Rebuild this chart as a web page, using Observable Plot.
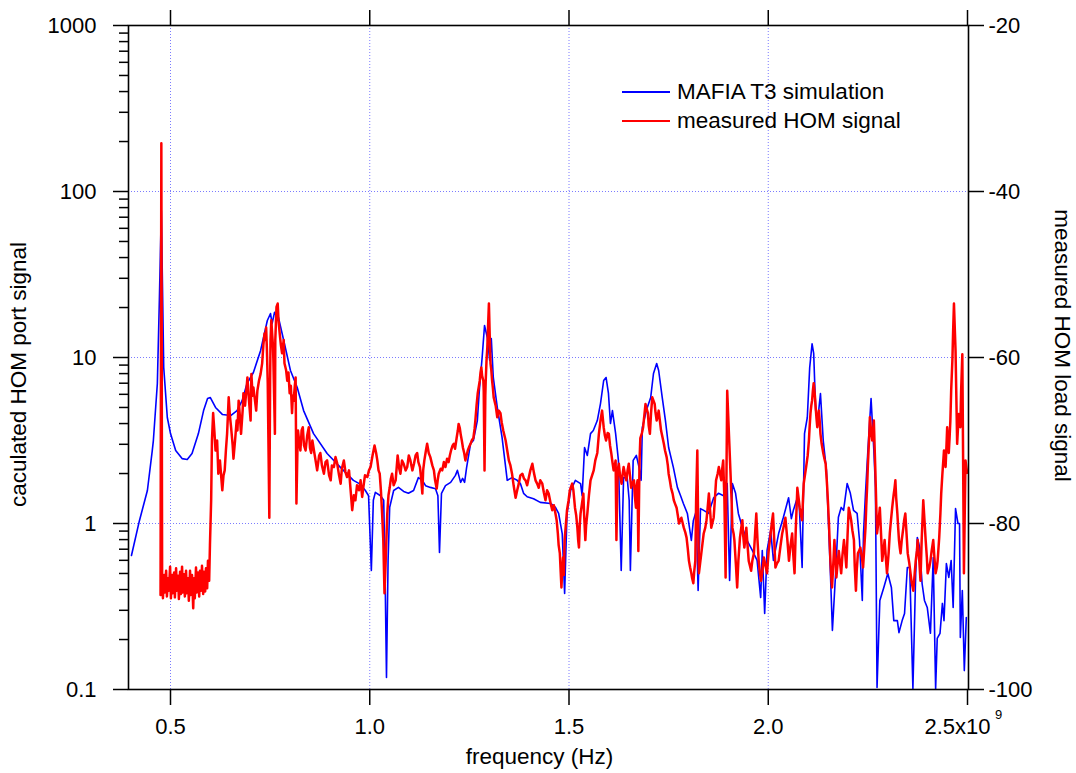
<!DOCTYPE html>
<html>
<head>
<meta charset="utf-8">
<script src="https://cdn.jsdelivr.net/npm/d3@7"></script>
<script src="https://cdn.jsdelivr.net/npm/@observablehq/plot@0.6"></script>
<style>
  body { margin: 0; background: #fff; }
  #chart { position: relative; width: 1076px; height: 773px; font-family: "Liberation Sans", Arial, sans-serif; }
  .legend { position: absolute; left: 622px; top: 77px; font-size: 22.5px; color: #000; }
  .legend .row { display: flex; align-items: center; height: 29px; white-space: nowrap; }
  .legend .swatch { display: inline-block; width: 48px; height: 2px; margin-right: 7px; }
</style>
</head>
<body>
<div id="chart"></div>
<script>
// MAFIA T3 simulation: frequency (MHz) and calculated HOM port signal (linear)
const simFreqMHz = [402,422,442,454,457,467,472,477,483,492,500,513,529,542,554,570,583,593,600,613,630,651,667,680,692,708,726,743,751,755,761,771,784,801,818,834,859,893,927,959,977,989,997,1004,1009,1014,1027,1035,1038,1042,1046,1050,1060,1072,1085,1097,1110,1122,1132,1140,1152,1165,1171,1175,1180,1190,1203,1215,1220,1228,1233,1238,1243,1253,1260,1270,1275,1282,1288,1295,1301,1305,1310,1320,1332,1345,1357,1370,1378,1386,1395,1411,1428,1454,1466,1474,1483,1489,1495,1504,1516,1529,1533,1539,1546,1554,1561,1571,1579,1587,1593,1599,1604,1609,1617,1624,1631,1637,1646,1651,1654,1661,1669,1676,1681,1684,1694,1705,1712,1720,1725,1734,1742,1750,1762,1772,1780,1787,1797,1807,1812,1819,1824,1830,1838,1850,1863,1875,1888,1897,1903,1910,1918,1925,1935,1947,1960,1972,1981,1985,1991,1997,2006,2013,2026,2038,2051,2058,2063,2073,2078,2085,2091,2098,2104,2110,2114,2119,2124,2131,2138,2146,2156,2161,2169,2176,2183,2189,2198,2206,2214,2223,2229,2236,2239,2244,2250,2258,2265,2269,2273,2280,2290,2300,2309,2315,2324,2328,2336,2342,2349,2355,2363,2370,2374,2380,2386,2392,2399,2407,2414,2420,2424,2431,2437,2441,2447,2453,2459,2464,2470,2476,2480,2482,2487,2492,2497];
const simSignal = [0.642,1.04,1.58,2.72,3.16,6.97,22.0,76.8,8.71,4.35,3.48,2.75,2.46,2.43,2.64,3.48,4.79,5.66,5.74,5.00,4.54,4.47,4.79,5.51,6.97,8.12,11.0,16.7,18.4,16.0,18.7,17.4,12.7,8.35,6.60,4.79,3.48,2.64,2.17,1.82,1.72,1.58,1.47,0.521,1.38,1.54,1.47,1.38,0.599,0.118,0.599,1.25,1.58,1.65,1.56,1.52,1.58,1.89,1.82,1.69,1.65,1.62,1.47,0.669,1.52,1.69,1.77,1.95,2.09,1.77,1.87,1.77,2.17,3.03,3.16,4.17,6.33,10.0,15.6,13.2,9.59,13.0,7.58,5.00,3.30,1.82,1.89,1.82,1.74,1.52,1.45,1.41,1.34,1.32,1.25,1.15,0.87,0.379,1.15,1.58,1.82,1.74,1.47,2.87,2.57,3.48,3.63,4.17,5.28,7.27,7.58,6.07,4.00,4.79,3.48,2.40,0.521,1.89,1.89,1.38,0.521,2.40,2.57,2.17,1.82,3.79,4.79,5.74,8.01,9.20,8.35,5.74,4.17,2.87,2.17,1.65,1.47,1.32,1.15,0.790,1.04,1.18,0.395,1.23,1.20,1.15,1.43,1.52,1.47,1.74,0.454,1.74,1.52,1.15,0.946,0.790,0.688,0.599,0.358,0.688,0.287,0.688,0.907,0.599,0.87,1.09,1.43,1.07,1.20,1.43,1.25,0.543,3.48,4.35,8.71,12.1,10.6,4.79,4.17,6.07,3.16,2.09,0.500,0.227,0.500,1.09,1.25,1.20,1.74,1.52,1.20,1.15,0.790,0.344,0.87,1.52,2.75,5.66,2.75,1.65,0.103,0.344,0.412,0.500,0.412,0.260,0.260,0.220,0.260,0.287,0.543,0.543,0.101,0.500,0.823,0.717,0.435,0.344,0.312,0.218,0.624,0.101,0.203,0.218,0.330,0.260,0.574,0.473,0.599,0.312,1.23,1.00,1.00,0.206,0.395,0.130,0.271];

// measured HOM load signal: [frequency (MHz), level (dB)]
const measured = [
  [475,-88.6],[477,-34.2],[479,-87.4],[481,-89.0],[484,-86.2],[486,-88.3],[489,-85.7],[491,-88.8],[494,-86.6],[496,-88.1],
  [499,-85.2],[501,-89.0],[504,-86.2],[506,-88.4],[509,-85.9],[511,-88.9],[514,-85.4],[516,-88.1],[519,-86.3],[521,-89.1],
  [524,-85.8],[526,-88.5],[529,-85.2],[531,-88.3],[534,-86.1],[536,-88.8],[539,-85.7],[541,-88.4],[544,-86.6],[546,-89.3],
  [549,-85.7],[551,-88.6],[554,-86.2],[557,-90.2],[559,-86.6],[561,-89.0],[564,-85.3],[566,-88.3],[569,-85.9],[572,-88.8],
  [574,-85.7],[577,-88.1],[579,-85.1],[582,-88.5],[584,-85.8],[587,-88.2],[589,-85.4],[592,-87.8],[594,-84.5],[597,-86.9],
  [599,-82.6],[602,-77.2],[604,-70.0],[607,-66.7],[610,-68.8],[613,-71.2],[617,-70.0],[620,-74.0],[624,-72.4],[630,-76.0],
  [633,-74.2],[636,-73.6],[639,-71.2],[642,-69.2],[646,-64.8],[649,-67.0],[652,-68.4],[656,-70.6],[658,-72.2],[662,-70.0],
  [666,-67.6],[668,-68.8],[671,-65.2],[674,-67.0],[677,-69.2],[681,-66.4],[683,-64.3],[687,-65.8],[691,-63.6],[693,-62.4],
  [697,-65.2],[701,-67.6],[703,-62.0],[706,-64.6],[708,-63.6],[712,-65.2],[715,-66.4],[718,-64.0],[722,-62.8],[726,-62.0],
  [730,-60.7],[733,-58.5],[736,-57.1],[738,-57.9],[740,-56.4],[742,-59.2],[744,-63.1],[748,-79.3],[750,-62.8],[751,-57.9],
  [753,-55.5],[755,-57.1],[757,-58.5],[758,-60.0],[762,-69.2],[763,-57.9],[766,-53.9],[769,-53.5],[771,-55.5],[774,-57.1],
  [777,-58.5],[780,-59.5],[784,-57.9],[786,-60.7],[790,-61.5],[793,-62.8],[796,-61.8],[799,-64.3],[802,-63.4],[805,-66.7],
  [807,-64.6],[809,-65.2],[812,-63.4],[814,-62.4],[816,-77.6],[819,-70.0],[820,-68.8],[824,-70.6],[826,-71.2],[829,-68.8],
  [832,-68.4],[835,-70.6],[839,-71.2],[843,-69.4],[847,-68.4],[850,-70.9],[853,-71.5],[856,-70.0],[860,-71.2],[864,-72.4],
  [868,-73.6],[873,-71.8],[876,-71.5],[880,-73.0],[885,-74.0],[889,-72.6],[893,-72.4],[898,-74.2],[902,-74.8],[905,-73.0],
  [910,-73.2],[914,-72.0],[918,-72.7],[923,-74.2],[927,-75.2],[930,-73.4],[935,-72.4],[939,-73.8],[943,-74.4],[948,-73.6],
  [952,-76.0],[956,-78.4],[960,-76.6],[964,-77.2],[968,-75.4],[973,-76.0],[977,-74.8],[981,-76.8],[984,-75.6],[988,-74.2],
  [994,-74.4],[998,-73.6],[1002,-73.2],[1007,-71.8],[1012,-70.6],[1016,-71.5],[1019,-72.4],[1022,-73.6],[1025,-74.0],[1028,-76.0],
  [1031,-78.8],[1034,-82.0],[1037,-88.4],[1040,-84.5],[1044,-78.8],[1047,-76.6],[1050,-75.7],[1053,-74.6],[1056,-74.0],[1060,-75.4],
  [1065,-74.8],[1068,-73.0],[1070,-71.8],[1074,-73.4],[1077,-74.0],[1081,-72.4],[1085,-72.8],[1090,-73.6],[1094,-73.2],[1098,-71.8],
  [1102,-72.4],[1107,-73.6],[1111,-72.8],[1115,-71.8],[1119,-71.5],[1122,-72.6],[1126,-73.2],[1129,-74.6],[1132,-76.4],[1134,-73.6],
  [1137,-72.4],[1141,-71.2],[1144,-70.4],[1148,-71.5],[1152,-72.0],[1157,-73.0],[1161,-73.6],[1164,-74.8],[1168,-75.8],[1171,-74.6],
  [1173,-74.0],[1178,-73.4],[1182,-73.6],[1186,-72.6],[1190,-73.2],[1194,-72.2],[1198,-72.6],[1201,-71.8],[1204,-71.2],[1208,-70.6],
  [1211,-70.4],[1214,-71.0],[1218,-69.7],[1221,-68.8],[1223,-68.0],[1226,-68.5],[1228,-69.2],[1231,-70.0],[1234,-70.9],[1237,-71.5],
  [1240,-72.4],[1243,-71.8],[1246,-71.2],[1250,-70.7],[1253,-70.4],[1256,-70.0],[1260,-69.7],[1263,-68.6],[1265,-67.6],[1268,-65.8],
  [1271,-64.3],[1274,-63.4],[1276,-62.8],[1278,-61.8],[1280,-61.2],[1282,-62.2],[1285,-62.8],[1286,-64.0],[1288,-73.6],[1290,-64.6],
  [1291,-62.8],[1293,-60.4],[1295,-58.8],[1297,-56.1],[1299,-53.5],[1301,-57.3],[1303,-60.7],[1305,-61.5],[1307,-62.8],[1309,-63.7],
  [1311,-64.8],[1316,-65.8],[1320,-67.2],[1324,-66.4],[1328,-66.7],[1331,-67.8],[1335,-68.8],[1338,-69.4],[1341,-70.0],[1345,-71.2],
  [1349,-72.4],[1353,-73.0],[1357,-74.0],[1361,-75.4],[1366,-76.9],[1370,-76.0],[1374,-75.2],[1378,-74.2],[1383,-74.0],[1387,-74.6],
  [1391,-74.8],[1395,-75.4],[1399,-74.5],[1403,-73.6],[1408,-72.8],[1412,-73.9],[1416,-74.8],[1420,-75.2],[1424,-75.7],[1428,-74.8],
  [1433,-75.2],[1437,-76.3],[1441,-77.2],[1445,-76.0],[1449,-76.4],[1454,-77.6],[1458,-78.4],[1462,-77.8],[1466,-78.8],[1469,-79.6],
  [1472,-81.2],[1474,-82.6],[1477,-83.6],[1479,-85.7],[1481,-87.7],[1483,-85.7],[1485,-84.1],[1487,-86.2],[1489,-82.0],[1492,-80.2],
  [1495,-78.4],[1499,-77.2],[1502,-76.0],[1505,-75.6],[1508,-75.2],[1511,-76.0],[1515,-78.1],[1518,-79.0],[1521,-80.5],[1523,-82.0],
  [1525,-82.9],[1527,-80.2],[1529,-78.8],[1532,-77.8],[1536,-76.4],[1538,-79.0],[1541,-82.0],[1543,-80.2],[1546,-78.8],[1550,-76.6],
  [1554,-74.8],[1558,-74.2],[1562,-73.6],[1566,-72.4],[1571,-71.5],[1575,-69.2],[1579,-67.6],[1583,-66.4],[1587,-68.4],[1590,-69.4],
  [1593,-70.0],[1597,-69.1],[1600,-69.2],[1603,-70.6],[1606,-71.5],[1609,-72.6],[1612,-73.6],[1615,-73.0],[1617,-72.4],[1619,-82.0],
  [1622,-73.6],[1625,-72.8],[1628,-74.2],[1632,-75.2],[1635,-73.9],[1637,-73.2],[1641,-74.2],[1644,-74.8],[1647,-73.6],[1650,-72.8],
  [1653,-74.2],[1656,-75.7],[1659,-75.1],[1663,-74.8],[1665,-76.6],[1668,-78.1],[1670,-75.4],[1672,-74.8],[1674,-83.3],[1677,-72.4],
  [1679,-69.7],[1683,-69.1],[1686,-68.4],[1689,-67.0],[1692,-65.6],[1695,-66.2],[1698,-66.7],[1700,-68.2],[1703,-69.2],[1706,-66.6],
  [1709,-64.8],[1712,-65.2],[1715,-65.6],[1717,-66.6],[1720,-67.6],[1723,-67.0],[1725,-66.4],[1728,-67.6],[1731,-68.8],[1735,-69.7],
  [1738,-70.4],[1741,-71.2],[1745,-72.0],[1748,-73.0],[1750,-74.0],[1753,-74.8],[1756,-75.7],[1760,-76.4],[1763,-77.2],[1766,-77.6],
  [1770,-78.1],[1773,-79.0],[1776,-80.0],[1779,-79.6],[1782,-79.3],[1785,-79.9],[1788,-80.5],[1792,-81.1],[1795,-81.7],[1798,-83.0],
  [1801,-84.5],[1804,-85.3],[1807,-86.0],[1809,-86.6],[1812,-87.2],[1814,-85.9],[1817,-84.5],[1819,-77.2],[1822,-71.2],[1824,-79.6],
  [1826,-86.0],[1829,-84.8],[1832,-83.6],[1835,-82.4],[1838,-81.2],[1842,-80.5],[1845,-79.6],[1848,-78.1],[1851,-76.4],[1854,-78.4],
  [1857,-80.5],[1860,-79.9],[1863,-79.3],[1866,-77.2],[1869,-74.8],[1873,-74.0],[1876,-73.2],[1879,-74.0],[1882,-74.8],[1884,-73.6],
  [1887,-72.4],[1890,-77.2],[1893,-86.5],[1895,-74.8],[1897,-64.0],[1899,-66.4],[1901,-68.8],[1903,-71.2],[1905,-73.6],[1908,-77.2],
  [1910,-80.5],[1913,-81.2],[1915,-82.0],[1919,-85.1],[1922,-87.7],[1925,-84.5],[1929,-81.7],[1932,-80.6],[1935,-79.6],[1937,-81.4],
  [1940,-82.9],[1943,-81.7],[1945,-80.5],[1948,-82.6],[1951,-84.5],[1954,-85.1],[1957,-85.7],[1960,-84.5],[1964,-83.6],[1967,-81.2],
  [1970,-78.8],[1973,-82.0],[1976,-84.5],[1979,-85.9],[1982,-86.9],[1986,-85.4],[1989,-84.1],[1993,-85.1],[1997,-86.0],[2001,-83.3],
  [2006,-81.2],[2009,-79.9],[2012,-78.8],[2015,-82.0],[2018,-85.3],[2022,-84.8],[2026,-84.5],[2031,-82.6],[2035,-81.2],[2039,-80.3],
  [2043,-79.3],[2048,-82.0],[2052,-84.5],[2056,-82.6],[2060,-81.2],[2063,-83.9],[2066,-86.0],[2069,-80.8],[2073,-75.7],[2076,-76.9],
  [2079,-78.1],[2082,-79.0],[2085,-79.6],[2087,-77.2],[2089,-75.2],[2092,-74.2],[2095,-73.2],[2099,-71.8],[2102,-70.0],[2104,-68.2],
  [2106,-66.7],[2108,-65.8],[2110,-65.2],[2112,-64.0],[2114,-63.1],[2117,-64.6],[2119,-66.0],[2121,-67.3],[2123,-68.4],[2125,-67.3],
  [2127,-66.4],[2129,-67.6],[2131,-69.2],[2134,-70.4],[2138,-71.5],[2141,-72.2],[2144,-72.8],[2146,-74.2],[2148,-75.7],[2150,-77.6],
  [2152,-79.6],[2154,-82.0],[2156,-84.5],[2158,-86.3],[2160,-87.7],[2163,-85.1],[2166,-82.0],[2169,-84.5],[2171,-86.5],[2174,-84.8],
  [2177,-83.3],[2180,-84.7],[2183,-86.0],[2186,-83.9],[2190,-82.0],[2193,-83.6],[2196,-85.3],[2199,-81.4],[2202,-78.1],[2205,-78.8],
  [2208,-79.6],[2211,-80.8],[2215,-82.0],[2217,-85.1],[2220,-88.1],[2222,-85.7],[2225,-83.6],[2228,-83.3],[2231,-82.9],[2235,-84.1],
  [2238,-85.3],[2241,-82.9],[2244,-80.5],[2246,-77.8],[2248,-75.7],[2250,-73.0],[2252,-70.9],[2254,-68.8],[2255,-67.2],[2258,-68.8],
  [2261,-70.0],[2263,-68.8],[2265,-67.6],[2267,-70.9],[2269,-74.0],[2271,-77.8],[2273,-81.2],[2277,-79.6],[2280,-78.1],[2283,-81.2],
  [2286,-84.5],[2289,-83.3],[2292,-82.0],[2295,-84.1],[2298,-86.0],[2302,-83.6],[2305,-81.2],[2308,-79.6],[2311,-78.1],[2313,-77.2],
  [2315,-76.4],[2317,-75.7],[2319,-74.8],[2321,-76.9],[2324,-78.8],[2326,-80.5],[2328,-82.0],[2330,-82.9],[2332,-83.6],[2335,-82.0],
  [2339,-80.5],[2341,-79.6],[2344,-78.8],[2347,-81.2],[2350,-83.6],[2354,-84.8],[2357,-86.0],[2360,-87.1],[2364,-88.1],[2367,-86.3],
  [2370,-84.5],[2373,-83.3],[2375,-82.0],[2379,-84.5],[2382,-86.9],[2385,-82.0],[2389,-77.2],[2392,-79.6],[2395,-82.0],[2398,-84.1],
  [2400,-86.0],[2404,-85.3],[2407,-84.5],[2410,-83.3],[2414,-82.0],[2417,-84.1],[2420,-86.0],[2423,-85.3],[2425,-84.5],[2429,-81.7],
  [2432,-78.8],[2434,-76.4],[2437,-74.0],[2439,-72.6],[2441,-71.2],[2443,-72.2],[2445,-73.2],[2447,-70.9],[2449,-68.4],[2451,-70.0],
  [2453,-71.5],[2455,-69.7],[2457,-67.6],[2459,-64.0],[2462,-60.4],[2464,-56.7],[2466,-53.5],[2468,-56.4],[2470,-59.2],[2472,-64.8],
  [2474,-70.4],[2476,-68.6],[2478,-66.8],[2480,-67.6],[2482,-68.4],[2484,-64.0],[2487,-59.6],[2489,-72.4],[2491,-86.0],[2493,-79.0],
  [2495,-72.4],[2497,-73.2],[2499,-73.9]
];

// axis ticks and labels
const xTicks = [500, 1000, 1500, 2000, 2500];
const xTickLabels = ["0.5", "1.0", "1.5", "2.0", "2.5x10"];
const xExponent = "9";
const yTicks = [0.1, 1, 10, 100, 1000];
const yTickLabels = ["0.1", "1", "10", "100", "1000"];
const dbTickLabels = ["-100", "-80", "-60", "-40", "-20"];

const series = [
  {name: "MAFIA T3 simulation", color: "#0000ff"},
  {name: "measured HOM signal", color: "#ff0000"}
];

// the load level in dB shares the log axis: -80 dB sits at 1, 20 dB per decade
const dbToPort = db => Math.pow(10, (db + 80) / 20);

const sim = simFreqMHz.map((f, i) => ({f, v: simSignal[i]}));
const meas = measured.map(([f, db]) => ({f, v: dbToPort(db)}));

const minorTicks = [];
for (const decade of [0.1, 1, 10, 100]) for (let k = 2; k <= 9; k++) minorTicks.push(decade * k);

const grid = {stroke: "#7b7bff", strokeOpacity: 1, strokeWidth: 1, strokeDasharray: "1,2"};
const axisStyle = {strokeWidth: 1.5, label: null};

const chart = Plot.plot({
  width: 1076,
  height: 773,
  marginLeft: 128,
  marginRight: 108,
  marginTop: 25,
  marginBottom: 84,
  style: {fontFamily: "Liberation Sans, Arial, sans-serif", fontSize: "22px", color: "#000", background: "#fff"},
  x: {domain: [394.6, 2502.5]},
  y: {type: "log", domain: [0.1, 1000]},
  marks: [
    Plot.gridX(xTicks.slice(0, 4), grid),
    Plot.gridY(yTicks.slice(1, 4), grid),
    Plot.line(sim, {x: "f", y: "v", stroke: series[0].color, strokeWidth: 1.6, clip: true}),
    Plot.line(meas, {x: "f", y: "v", stroke: series[1].color, strokeWidth: 2.5, clip: true}),
    Plot.frame({stroke: "#000", strokeWidth: 1.6}),
    Plot.axisY({...axisStyle, anchor: "left", ticks: minorTicks, tickSize: 9, tickFormat: () => ""}),
    Plot.axisY({...axisStyle, anchor: "left", ticks: yTicks, tickSize: 15, tickPadding: 17,
      tickFormat: d => yTickLabels[yTicks.indexOf(d)]}),
    Plot.axisY({...axisStyle, anchor: "right", ticks: yTicks, tickSize: 15, tickPadding: 5,
      tickFormat: d => dbTickLabels[yTicks.indexOf(d)]}),
    Plot.axisX({...axisStyle, anchor: "top", ticks: xTicks, tickSize: 16, tickFormat: () => ""}),
    Plot.axisX({...axisStyle, anchor: "bottom", ticks: xTicks, tickSize: 16, tickPadding: 13,
      tickFormat: d => (d === 2500 ? "" : xTickLabels[xTicks.indexOf(d)])}),
    Plot.text([xTickLabels[4]], {x: [2500], text: d => d, frameAnchor: "bottom", lineAnchor: "top", dy: 29, dx: -10}),
    Plot.text([xExponent], {x: [2500], text: d => d, frameAnchor: "bottom", dy: 29, dx: 31, fontSize: 13}),
    Plot.text(["frequency (Hz)"], {frameAnchor: "bottom", textAnchor: "middle", dy: 74, dx: -9, fontSize: 22.5}),
    Plot.text(["caculated HOM port signal"], {frameAnchor: "left", textAnchor: "middle", dx: -110, dy: 17, rotate: -90, fontSize: 22.5}),
    Plot.text(["measured HOM load signal"], {frameAnchor: "right", textAnchor: "middle", dx: 94, dy: -12, rotate: 90, fontSize: 22.5})
  ]
});

const root = document.getElementById("chart");
root.appendChild(chart);

const legend = document.createElement("div");
legend.className = "legend";
for (const s of series) {
  const row = document.createElement("div");
  row.className = "row";
  const sw = document.createElement("span");
  sw.className = "swatch";
  sw.style.background = s.color;
  const label = document.createElement("span");
  label.textContent = s.name;
  row.append(sw, label);
  legend.appendChild(row);
}
root.appendChild(legend);
</script>
</body>
</html>
